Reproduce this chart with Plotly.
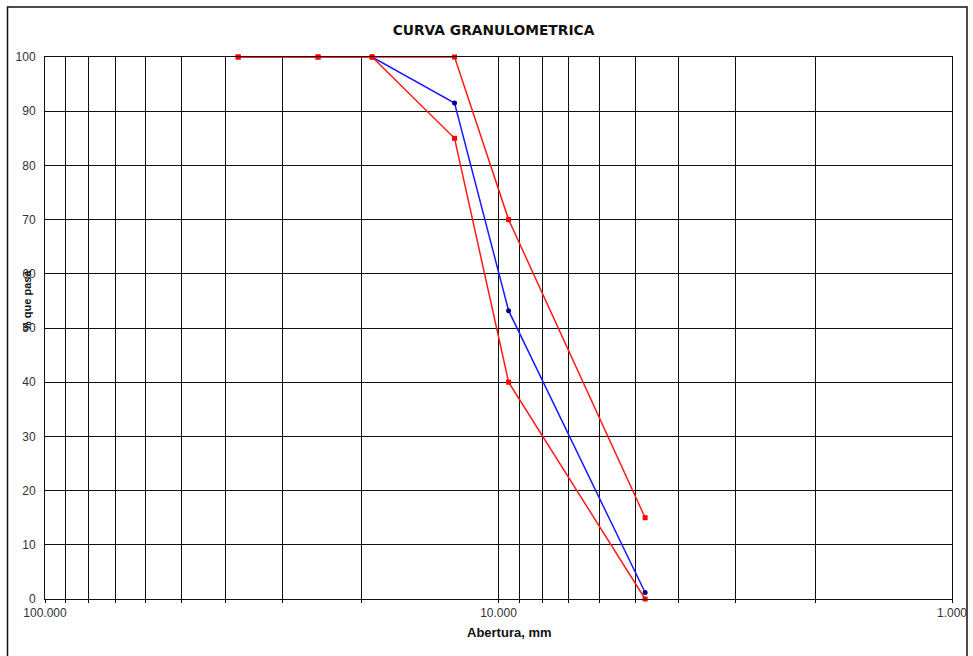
import plotly.graph_objects as go

# Sieve openings (mm)
sizes_limits = [37.5, 25.0, 19.0, 12.5, 9.5, 4.75]
upper_limit = [100, 100, 100, 100, 70, 15]
lower_limit = [100, 100, 100, 85, 40, 0]

sizes_sample = [19.0, 12.5, 9.5, 4.75]
sample_pass = [100, 91.5, 53.2, 1.2]

# x tick/grid values (log scale, every digit) and labels
grid_vals = [d * m for m in (1, 10) for d in range(1, 10)] + [100]
label_map = {1: "1.000", 10: "10.000", 100: "100.000"}
grid_text = [label_map.get(v, "") for v in grid_vals]

y_ticks = list(range(0, 101, 10))

W, H = 973, 656
PL, PR, PT, PB = 45, 952, 57, 599  # plot area in page px
pw, ph = PR - PL, PB - PT

fig = go.Figure()

fig.add_trace(go.Scatter(
    x=sizes_sample, y=sample_pass, mode="lines+markers",
    line=dict(color="#1a1aff", width=1.5),
    marker=dict(color="#000080", size=5, symbol="circle"),
    showlegend=False, cliponaxis=False))

fig.add_trace(go.Scatter(
    x=sizes_limits, y=upper_limit, mode="lines+markers",
    line=dict(color="#ff1a1a", width=1.5),
    marker=dict(color="#ff0000", size=5, symbol="square"),
    showlegend=False, cliponaxis=False))

fig.add_trace(go.Scatter(
    x=sizes_limits, y=lower_limit, mode="lines+markers",
    line=dict(color="#ff1a1a", width=1.5),
    marker=dict(color="#ff0000", size=5, symbol="square"),
    showlegend=False, cliponaxis=False))

font_family = "Liberation Sans, Arial, sans-serif"

fig.update_layout(
    width=W, height=H,
    margin=dict(l=PL, r=W - PR, t=PT, b=H - PB, autoexpand=False),
    paper_bgcolor="white", plot_bgcolor="white",
    font=dict(family=font_family, size=12, color="#222"),
    title=dict(text="<b>CURVA GRANULOMETRICA</b>", x=493.5 / W, xanchor="center",
               xref="container",
               y=1 - 30 / H, yanchor="middle", yref="container",
               font=dict(family="DejaVu Sans, sans-serif", size=13.8, color="#111")),
    xaxis=dict(type="log", range=[2, 0], tickvals=grid_vals, ticktext=grid_text,
               automargin=False,
               showgrid=True, gridcolor="#111", gridwidth=1,
               showline=True, linecolor="#111", linewidth=1, mirror=True,
               ticks="outside", ticklen=3, tickcolor="#111",
               tickfont=dict(size=12, color="#333")),
    yaxis=dict(range=[0, 100], tickvals=y_ticks, automargin=False,
               showgrid=True, gridcolor="#111", gridwidth=1,
               showline=True, linecolor="#111", linewidth=1, mirror=True,
               ticks="", ticklabelstandoff=6,
               tickfont=dict(size=12, color="#333"),
               zeroline=False),
)

# axis titles
fig.add_annotation(text="<b>Abertura, mm</b>", xref="paper", yref="paper",
                   x=(509 - PL) / pw, y=(PB - 632) / ph, showarrow=False,
                   xanchor="center", yanchor="middle",
                   font=dict(size=13, color="#111"))

fig.add_annotation(text="<b>% que pasa</b>", xref="paper", yref="paper",
                   x=(27 - PL) / pw, y=(PB - 301) / ph, textangle=-90, showarrow=False,
                   xanchor="center", yanchor="middle",
                   font=dict(size=11, color="#111"))

# outer chart border
fig.add_shape(type="rect", xref="paper", yref="paper",
              x0=(7.5 - PL) / pw, x1=(967 - PL) / pw,
              y0=(PB - 662) / ph, y1=(PB - 7) / ph,
              line=dict(color="#111", width=1.5), layer="below")

fig.write_html(
    "out.html",
    config={"displayModeBar": False},
    post_script="document.body.style.margin='0';document.body.style.overflow='hidden';",
)
